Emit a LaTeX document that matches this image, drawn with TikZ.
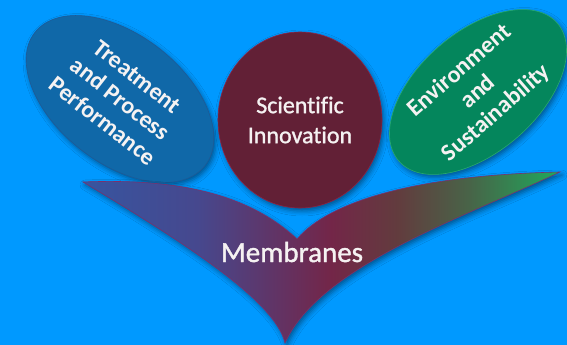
\documentclass[tikz,border=0pt]{standalone}
\usepackage{fontspec}
\setmainfont{Carlito}[Ligatures={NoCommon}]
\newfontfamily\semibold{Carlito}[Ligatures={NoCommon},FakeBold=1.2]
\usetikzlibrary{shapes.geometric,shadows.blur}
\definecolor{bg}{RGB}{0,153,255}
\definecolor{lblue}{RGB}{16,104,168}
\definecolor{lblueedge}{RGB}{30,90,150}
\definecolor{maroon}{RGB}{98,32,54}
\definecolor{maroonedge}{RGB}{140,35,70}
\definecolor{egreen}{RGB}{4,134,92}
\definecolor{egreenedge}{RGB}{40,170,110}
\definecolor{wingedge}{RGB}{120,50,110}
\definecolor{w0}{RGB}{55,85,160}
\definecolor{w1}{RGB}{70,72,142}
\definecolor{w2}{RGB}{102,48,94}
\definecolor{w3}{RGB}{115,38,72}
\definecolor{w4}{RGB}{98,60,62}
\definecolor{w5}{RGB}{72,100,72}
\definecolor{w6}{RGB}{30,170,92}
\definecolor{txt}{RGB}{245,242,242}
\pgfdeclarehorizontalshading{wingshade}{100bp}{color(0bp)=(w0); color(25bp)=(w0); color(37bp)=(w1); color(46.7bp)=(w2); color(51bp)=(w3); color(58bp)=(w4); color(65.5bp)=(w5); color(75bp)=(w6); color(100bp)=(w6)}
\begin{document}
\begin{tikzpicture}[x=1pt,y=-1pt,
  softshadow/.style={blur shadow={shadow xshift=2pt,shadow yshift=-3pt,shadow blur radius=5pt,shadow opacity=45}},
  bubble/.style={ellipse,inner sep=0pt,line width=0.6pt,softshadow,text=txt,align=center},
  boldlbl/.style={font=\fontsize{24}{28}\selectfont\bfseries},
  plainlbl/.style={font=\fontsize{24}{30}\selectfont\semibold}
]
\fill[bg] (0,0) rectangle (567,345);
\useasboundingbox (0,0) rectangle (567,345);

\node[bubble,boldlbl,fill=lblue,draw=lblueedge,minimum width=216pt,minimum height=128pt,rotate=-38] (tpp) at (120,99) {Treatment\\and Process\\Performance};
\node[bubble,plainlbl,fill=maroon,draw=maroonedge,minimum width=164pt,minimum height=176pt] (sci) at (300,120) {Scientific\\Innovation};
\node[bubble,boldlbl,fill=egreen,draw=egreenedge,minimum width=210pt,minimum height=120pt,rotate=41] (env) at (478,92) {Environment\\and\\Sustainability};

\shadedraw[shading=wingshade,draw=wingedge,line width=0.6pt,softshadow]
  (83,182) .. controls (180,178) and (250,195) .. (297,239)
  .. controls (330,200) and (420,175) .. (560,172)
  .. controls (470,215) and (320,265) .. (285,343)
  .. controls (275,300) and (180,240) .. cycle;

\node[text=txt,font=\fontsize{29}{34}\selectfont\semibold,anchor=base] (mem) at (292,262) {Membranes};
\end{tikzpicture}
\end{document}
